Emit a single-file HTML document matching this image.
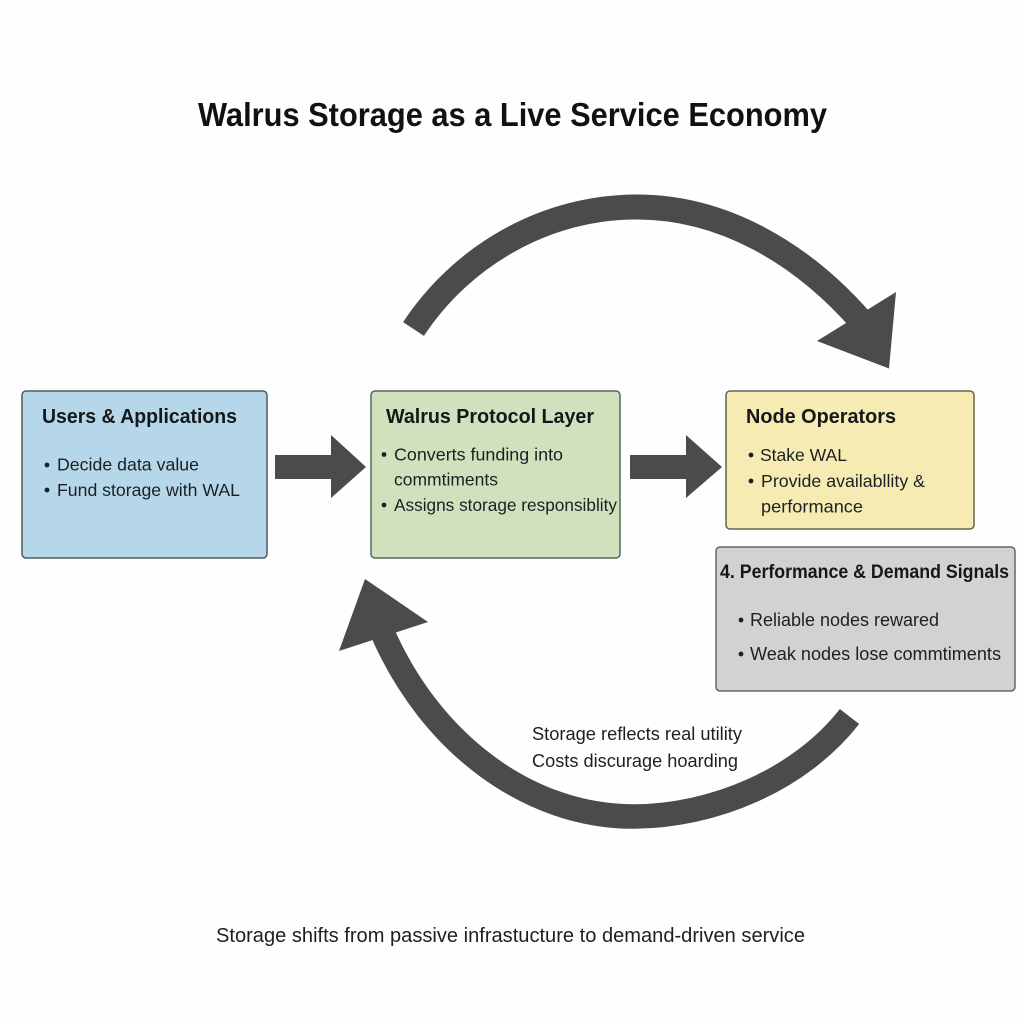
<!DOCTYPE html>
<html><head><meta charset="utf-8"><style>
html,body{margin:0;padding:0;background:#fff}
svg{display:block}
text{font-family:"Liberation Sans",sans-serif;fill:#1b2023}
.t{font-size:17.5px}
.h{font-size:20px;font-weight:700;fill:#14181a}
circle{fill:#1b2023}
</style></head><body>
<svg width="1024" height="1024" viewBox="0 0 1024 1024" xmlns="http://www.w3.org/2000/svg">
<rect width="1024" height="1024" fill="#fefefe"/>
<text x="198" y="126" font-size="33" font-weight="700" textLength="629" lengthAdjust="spacingAndGlyphs" style="fill:#111">Walrus Storage as a Live Service Economy</text>

<path d="M413.5 329 C463 254 547 207 637 207 C722 207 801 252 862 322" fill="none" stroke="#4b4b4b" stroke-width="25"/>
<polygon points="896,292 889,368.5 817,341" fill="#4b4b4b"/>

<path d="M849.5 716.5 C800 780 713 816.5 633 816.5 C530 816.5 430 745 380.5 628" fill="none" stroke="#4b4b4b" stroke-width="24.5"/>
<polygon points="365,579 428,622 339,651" fill="#4b4b4b"/>

<rect x="22" y="391" width="245" height="167" rx="4" fill="#b6d7e9" stroke="#4f5a60" stroke-width="1.5"/>
<rect x="371" y="391" width="249" height="167" rx="4" fill="#d1e1bd" stroke="#5c6658" stroke-width="1.5"/>
<rect x="726" y="391" width="248" height="138" rx="4" fill="#f6ecb3" stroke="#66634f" stroke-width="1.5"/>
<rect x="716" y="547" width="299" height="144" rx="4" fill="#d2d2d2" stroke="#666" stroke-width="1.5"/>

<polygon points="275,455 331,455 331,435 366,467 331,498 331,479 275,479" fill="#4b4b4b"/>
<polygon points="630,455 686,455 686,435 722,467 686,498 686,479 630,479" fill="#4b4b4b"/>

<text class="h" x="42" y="423" textLength="195" lengthAdjust="spacingAndGlyphs">Users &amp; Applications</text>
<circle cx="47" cy="465" r="2.4"/>
<text class="t" x="57" y="470.5" textLength="142" lengthAdjust="spacingAndGlyphs">Decide data value</text>
<circle cx="47" cy="490" r="2.4"/>
<text class="t" x="57" y="496" textLength="183" lengthAdjust="spacingAndGlyphs">Fund storage with WAL</text>

<text class="h" x="386" y="423" textLength="208" lengthAdjust="spacingAndGlyphs">Walrus Protocol Layer</text>
<circle cx="384" cy="454.5" r="2.4"/>
<text class="t" x="394" y="460.5" textLength="169" lengthAdjust="spacingAndGlyphs">Converts funding into</text>
<text class="t" x="394" y="485.5" textLength="104" lengthAdjust="spacingAndGlyphs">commtiments</text>
<circle cx="384" cy="505" r="2.4"/>
<text class="t" x="394" y="511" textLength="223" lengthAdjust="spacingAndGlyphs">Assigns storage responsiblity</text>

<text class="h" x="746" y="423" textLength="150" lengthAdjust="spacingAndGlyphs">Node Operators</text>
<circle cx="751" cy="455" r="2.4"/>
<text class="t" x="760" y="461" textLength="87" lengthAdjust="spacingAndGlyphs">Stake WAL</text>
<circle cx="751" cy="481" r="2.4"/>
<text class="t" x="761" y="487" textLength="164" lengthAdjust="spacingAndGlyphs">Provide availabllity &amp;</text>
<text class="t" x="761" y="512.5" textLength="102" lengthAdjust="spacingAndGlyphs">performance</text>

<text x="720" y="578" font-size="19" font-weight="700" textLength="289" lengthAdjust="spacingAndGlyphs" style="fill:#14181a">4. Performance &amp; Demand Signals</text>
<circle cx="741" cy="620" r="2.4"/>
<text x="750" y="626" font-size="18" textLength="189" lengthAdjust="spacingAndGlyphs">Reliable nodes rewared</text>
<circle cx="741" cy="654" r="2.4"/>
<text x="750" y="660" font-size="18" textLength="251" lengthAdjust="spacingAndGlyphs">Weak nodes lose commtiments</text>

<text x="532" y="740" font-size="18" textLength="210" lengthAdjust="spacingAndGlyphs">Storage reflects real utility</text>
<text x="532" y="767" font-size="18" textLength="206" lengthAdjust="spacingAndGlyphs">Costs discurage hoarding</text>

<text x="216" y="942" font-size="20" textLength="589" lengthAdjust="spacingAndGlyphs">Storage shifts from passive infrastucture to demand-driven service</text>
</svg>
</body></html>
